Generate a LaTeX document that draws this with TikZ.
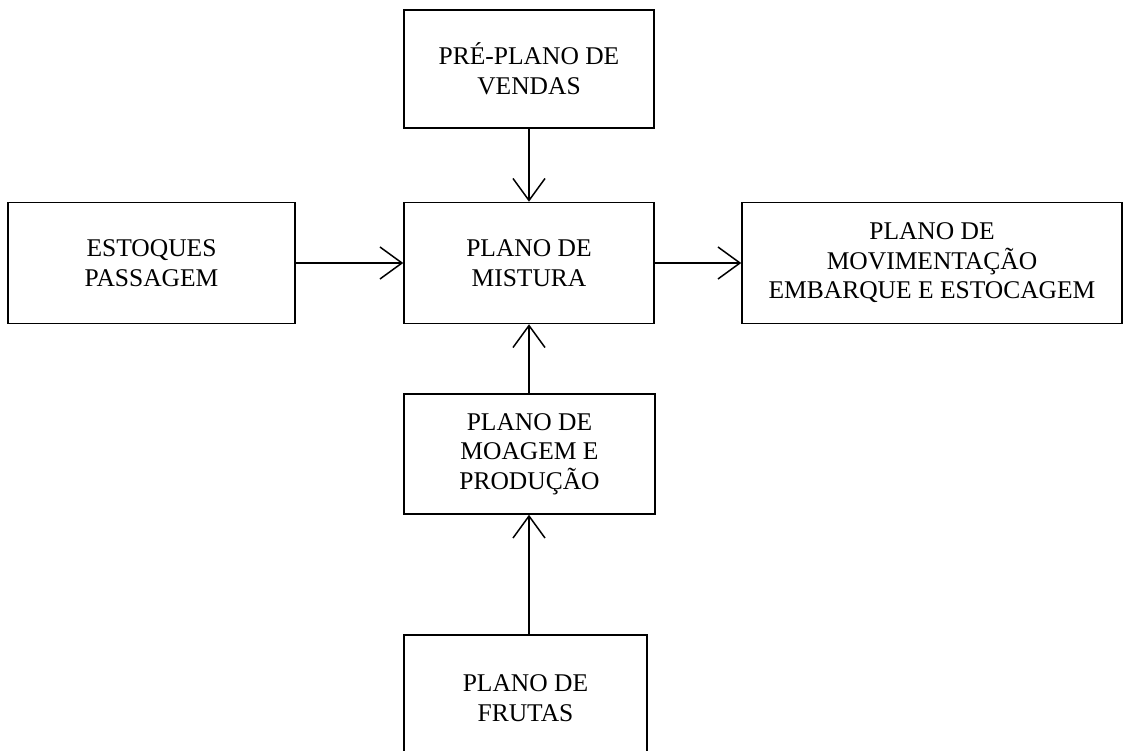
\documentclass[tikz,border=0pt]{standalone}
\usepackage{fontspec}
\setmainfont{Liberation Serif}
\usetikzlibrary{arrows.meta}
\tikzset{
  box/.style={draw=black, line width=1.5pt, rectangle, align=center, inner sep=0pt,
    font=\fontsize{25.5}{29.5}\selectfont},
  arr/.style={draw=black, line width=1.5pt, -{Straight Barb[length=22pt,width=32pt,line width=1.5pt]}}
}
\begin{document}
\begin{tikzpicture}[x=1pt,y=-1pt]
\clip (0,0) rectangle (1125,751);
\fill[white] (0,0) rectangle (1125,751);
\node[box, minimum width=250pt, minimum height=118pt] (pre) at (529,69) {PRÉ-PLANO DE\\VENDAS};
\node[box, minimum width=287pt, minimum height=121pt] (est) at (151.5,263) {ESTOQUES\\PASSAGEM};
\node[box, minimum width=250pt, minimum height=121pt] (mis) at (529,263) {PLANO DE\\MISTURA};
\node[box, minimum width=380pt, minimum height=121pt] (mov) at (932,263) {PLANO DE\\MOVIMENTAÇÃO\\EMBARQUE E ESTOCAGEM};
\node[box, minimum width=251pt, minimum height=120pt] (moa) at (529.5,454) {PLANO DE\\MOAGEM E\\PRODUÇÃO};
\node[box, minimum width=243pt, minimum height=126pt] (fru) at (525.5,698) {PLANO DE\\FRUTAS};
\draw[arr] (pre.south) -- (mis.north);
\draw[arr] (est.east) -- (mis.west);
\draw[arr] (mis.east) -- (mov.west);
\draw[arr] (moa.north -| mis.south) -- (mis.south);
\draw[arr] (fru.north -| mis.south) -- (moa.south -| mis.south);
\end{tikzpicture}
\end{document}
